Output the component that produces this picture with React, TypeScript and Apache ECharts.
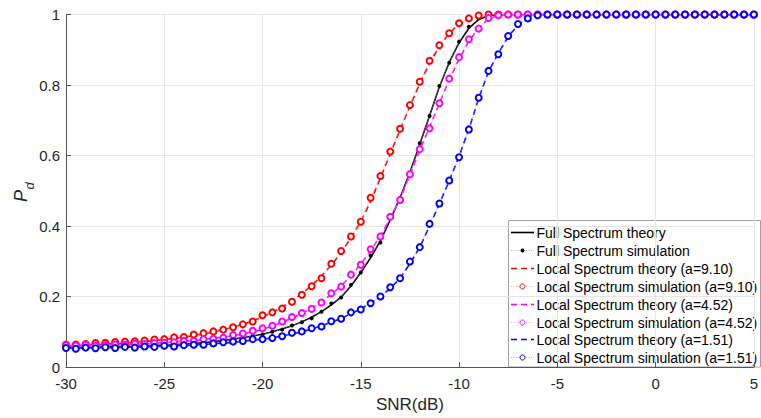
import React, { useEffect, useRef } from "react";
import * as echarts from "echarts";

const SNR = [
  -30, -29.5, -29, -28.5, -28, -27.5, -27, -26.5, -26, -25.5,
  -25, -24.5, -24, -23.5, -23, -22.5, -22, -21.5, -21, -20.5,
  -20, -19.5, -19, -18.5, -18, -17.5, -17, -16.5, -16, -15.5,
  -15, -14.5, -14, -13.5, -13, -12.5, -12, -11.5, -11, -10.5,
  -10, -9.5, -9, -8.5, -8, -7.5, -7, -6.5, -6, -5.5,
  -5, -4.5, -4, -3.5, -3, -2.5, -2, -1.5, -1, -0.5,
  0, 0.5, 1, 1.5, 2, 2.5, 3, 3.5, 4, 4.5,
  5,
];

const FULL_THEORY = [
  0.055, 0.055, 0.056, 0.056, 0.057, 0.057, 0.058, 0.059, 0.060, 0.061,
  0.062, 0.063, 0.065, 0.067, 0.069, 0.072, 0.075, 0.079, 0.083, 0.088,
  0.093, 0.100, 0.108, 0.117, 0.128, 0.141, 0.157, 0.176, 0.198, 0.230,
  0.268, 0.310, 0.358, 0.418, 0.480, 0.552, 0.632, 0.713, 0.795, 0.864,
  0.920, 0.961, 0.986, 0.997, 1, 1, 1, 1, 1, 1,
  1, 1, 1, 1, 1, 1, 1, 1, 1, 1,
  1, 1, 1, 1, 1, 1, 1, 1, 1, 1,
  1,
];

const FULL_SIM = [
  0.054, 0.056, 0.055, 0.057, 0.056, 0.058, 0.057, 0.060, 0.059, 0.061,
  0.063, 0.062, 0.066, 0.068, 0.068, 0.073, 0.074, 0.080, 0.082, 0.089,
  0.092, 0.100, 0.106, 0.118, 0.127, 0.138, 0.157, 0.180, 0.197, 0.233,
  0.268, 0.316, 0.353, 0.425, 0.479, 0.549, 0.635, 0.712, 0.797, 0.863,
  0.923, 0.965, 0.989, 0.998, 1, 1, 1, 1, 1, 1,
  1, 1, 1, 1, 1, 1, 1, 1, 1, 1,
  1, 1, 1, 1, 1, 1, 1, 1, 1, 1,
  1,
];

const RED_THEORY = [
  0.060, 0.061, 0.062, 0.063, 0.065, 0.066, 0.068, 0.070, 0.072, 0.075,
  0.078, 0.081, 0.085, 0.089, 0.094, 0.100, 0.106, 0.113, 0.121, 0.131,
  0.142, 0.155, 0.170, 0.188, 0.208, 0.231, 0.258, 0.289, 0.325, 0.366,
  0.413, 0.469, 0.536, 0.605, 0.673, 0.740, 0.804, 0.862, 0.910, 0.947,
  0.973, 0.988, 0.996, 0.999, 1, 1, 1, 1, 1, 1,
  1, 1, 1, 1, 1, 1, 1, 1, 1, 1,
  1, 1, 1, 1, 1, 1, 1, 1, 1, 1,
  1,
];

const RED_SIM = [
  0.064, 0.064, 0.065, 0.068, 0.069, 0.071, 0.072, 0.073, 0.075, 0.078,
  0.079, 0.084, 0.085, 0.092, 0.096, 0.101, 0.106, 0.113, 0.121, 0.129,
  0.147, 0.155, 0.166, 0.185, 0.205, 0.229, 0.252, 0.293, 0.329, 0.370,
  0.412, 0.480, 0.542, 0.611, 0.676, 0.743, 0.809, 0.869, 0.913, 0.947,
  0.975, 0.989, 0.997, 1, 1, 1, 1, 1, 1, 1,
  1, 1, 1, 1, 1, 1, 1, 1, 1, 1,
  1, 1, 1, 1, 1, 1, 1, 1, 1, 1,
  1,
];

const MAG_THEORY = [
  0.060, 0.060, 0.061, 0.061, 0.062, 0.063, 0.064, 0.065, 0.066, 0.067,
  0.069, 0.071, 0.073, 0.075, 0.078, 0.081, 0.085, 0.089, 0.094, 0.100,
  0.107, 0.116, 0.127, 0.139, 0.152, 0.167, 0.185, 0.206, 0.230, 0.259,
  0.292, 0.330, 0.372, 0.422, 0.476, 0.545, 0.615, 0.680, 0.748, 0.815,
  0.873, 0.925, 0.962, 0.988, 0.997, 1, 1, 1, 1, 1,
  1, 1, 1, 1, 1, 1, 1, 1, 1, 1,
  1, 1, 1, 1, 1, 1, 1, 1, 1, 1,
  1,
];

const MAG_SIM = [
  0.062, 0.061, 0.063, 0.060, 0.062, 0.064, 0.063, 0.066, 0.065, 0.068,
  0.069, 0.070, 0.074, 0.074, 0.079, 0.080, 0.083, 0.091, 0.095, 0.103,
  0.110, 0.117, 0.129, 0.142, 0.153, 0.165, 0.183, 0.209, 0.228, 0.262,
  0.290, 0.334, 0.370, 0.426, 0.474, 0.547, 0.618, 0.677, 0.748, 0.818,
  0.879, 0.930, 0.960, 0.990, 0.998, 1, 1, 1, 1, 1,
  1, 1, 1, 1, 1, 1, 1, 1, 1, 1,
  1, 1, 1, 1, 1, 1, 1, 1, 1, 1,
  1,
];

const BLUE_THEORY = [
  0.053, 0.053, 0.054, 0.054, 0.055, 0.055, 0.056, 0.056, 0.057, 0.058,
  0.059, 0.060, 0.061, 0.062, 0.064, 0.066, 0.068, 0.070, 0.073, 0.076,
  0.079, 0.083, 0.088, 0.094, 0.100, 0.108, 0.117, 0.127, 0.138, 0.151,
  0.165, 0.181, 0.200, 0.223, 0.252, 0.293, 0.340, 0.400, 0.463, 0.528,
  0.597, 0.675, 0.762, 0.838, 0.890, 0.937, 0.971, 0.989, 0.997, 1,
  1, 1, 1, 1, 1, 1, 1, 1, 1, 1,
  1, 1, 1, 1, 1, 1, 1, 1, 1, 1,
  1,
];

const BLUE_SIM = [
  0.054, 0.052, 0.055, 0.053, 0.056, 0.054, 0.057, 0.055, 0.058, 0.057,
  0.060, 0.058, 0.062, 0.063, 0.063, 0.067, 0.070, 0.072, 0.074, 0.079,
  0.079, 0.082, 0.087, 0.097, 0.101, 0.110, 0.115, 0.130, 0.137, 0.155,
  0.163, 0.181, 0.200, 0.226, 0.252, 0.299, 0.340, 0.406, 0.464, 0.529,
  0.595, 0.674, 0.764, 0.840, 0.887, 0.939, 0.973, 0.989, 0.998, 1,
  1, 1, 1, 1, 1, 1, 1, 1, 1, 1,
  1, 1, 1, 1, 1, 1, 1, 1, 1, 1,
  1,
];

const X_TICKS = [-30, -25, -20, -15, -10, -5, 0, 5];
const Y_TICKS = [0, 0.2, 0.4, 0.6, 0.8, 1];

const FONT = "'Liberation Sans', Arial, Helvetica, sans-serif";
const TEXT_COLOR = "#262626";

type Entry = {
  name: string;
  ys: number[];
  color: string;
  kind: "solid" | "dashed" | "sim" | "simFilled";
  lineColor?: string;
};

const ENTRIES: Entry[] = [
  { name: "Full Spectrum theory", ys: FULL_THEORY, color: "#000000", kind: "solid" },
  { name: "Full Spectrum simulation", ys: FULL_SIM, color: "#000000", kind: "simFilled", lineColor: "#9a9a9a" },
  { name: "Local Spectrum theory (a=9.10)", ys: RED_THEORY, color: "#ff0000", kind: "dashed" },
  { name: "Local Spectrum simulation (a=9.10)", ys: RED_SIM, color: "#ff0000", kind: "sim", lineColor: "#ff9090" },
  { name: "Local Spectrum theory (a=4.52)", ys: MAG_THEORY, color: "#ff00ff", kind: "dashed" },
  { name: "Local Spectrum simulation (a=4.52)", ys: MAG_SIM, color: "#ff00ff", kind: "sim", lineColor: "#ff90ff" },
  { name: "Local Spectrum theory (a=1.51)", ys: BLUE_THEORY, color: "#0000ff", kind: "dashed" },
  { name: "Local Spectrum simulation (a=1.51)", ys: BLUE_SIM, color: "#0000ff", kind: "sim", lineColor: "#9090ff" },
];

function pairs(ys: number[]) {
  return SNR.map((x, i) => [x, ys[i]]);
}

function makeSeries(e: Entry) {
  if (e.kind === "solid" || e.kind === "dashed") {
    return {
      type: "line",
      name: e.name,
      data: pairs(e.ys),
      symbol: "none",
      showSymbol: false,
      silent: true,
      lineStyle: { color: e.color, width: 1.6, type: e.kind === "dashed" ? [6, 4] : "solid" },
      itemStyle: { color: e.color },
    };
  }
  const filled = e.kind === "simFilled";
  return {
    type: "line",
    name: e.name,
    data: pairs(e.ys),
    symbol: filled ? "circle" : "emptyCircle",
    symbolSize: filled ? 4 : 6,
    showSymbol: true,
    silent: true,
    lineStyle: { color: e.lineColor, width: 0.8, type: "dotted" },
    itemStyle: filled ? { color: e.color } : { color: e.color, borderColor: e.color, borderWidth: 1 },
  };
}

function legendGraphics() {
  const boxX = 508.5;
  const boxY = 220.5;
  const boxW = 252;
  const boxH = 146.5;
  const rowTop = 232.3;
  const rowStep = 17.86;
  const lx1 = 511;
  const lx2 = 534;
  const children: any[] = [
    {
      type: "rect",
      shape: { x: boxX, y: boxY, width: boxW, height: boxH },
      style: { fill: "#ffffff", stroke: "#a0a0a0", lineWidth: 1 },
    },
  ];
  ENTRIES.forEach((e, i) => {
    const y = Math.round(rowTop + i * rowStep) + 0.5;
    if (e.kind === "solid") {
      children.push({
        type: "line",
        shape: { x1: lx1, y1: y, x2: lx2, y2: y },
        style: { stroke: e.color, lineWidth: 1.6 },
      });
    } else if (e.kind === "dashed") {
      children.push({
        type: "line",
        shape: { x1: lx1, y1: y, x2: lx2, y2: y },
        style: { stroke: e.color, lineWidth: 1.6, lineDash: [6, 4] },
      });
    } else {
      children.push({
        type: "line",
        shape: { x1: lx1, y1: y, x2: lx2, y2: y },
        style: { stroke: e.lineColor, lineWidth: 0.8, lineDash: [1, 1.5] },
      });
      const cx = (lx1 + lx2) / 2;
      if (e.kind === "simFilled") {
        children.push({
          type: "circle",
          shape: { cx, cy: y, r: 2 },
          style: { fill: e.color },
        });
      } else {
        children.push({
          type: "circle",
          shape: { cx, cy: y, r: 2.5 },
          style: { fill: "#ffffff", stroke: e.color, lineWidth: 1 },
        });
      }
    }
    children.push({
      type: "text",
      x: 536.5,
      y: y + 0.5,
      style: {
        text: e.name,
        font: "14px " + FONT,
        fill: "#000000",
        textAlign: "left",
        textVerticalAlign: "middle",
      },
    });
  });
  return { type: "group", z: 100, children };
}

export default function App() {
  const ref = useRef<HTMLDivElement>(null);
  useEffect(() => {
    if (!ref.current) return;
    const chart = echarts.init(ref.current, undefined, { renderer: "svg" });
    chart.setOption({
      animation: false,
      backgroundColor: "#ffffff",
      grid: { left: 66, right: 0, top: 14.5, bottom: 51, containLabel: false },
      xAxis: {
        type: "value",
        min: X_TICKS[0],
        max: X_TICKS[X_TICKS.length - 1],
        interval: 5,
        name: "SNR(dB)",
        nameLocation: "middle",
        nameGap: 20,
        nameTextStyle: { fontFamily: FONT, fontSize: 17, color: TEXT_COLOR },
        axisLine: { show: true, onZero: false, lineStyle: { color: "#555", width: 1 } },
        axisTick: { show: true, inside: true, length: 5, lineStyle: { color: "#555" } },
        axisLabel: { fontFamily: FONT, fontSize: 15, color: TEXT_COLOR, margin: 9 },
        splitLine: { show: true, lineStyle: { color: "#e6e6e6", width: 1 } },
      },
      yAxis: {
        type: "value",
        min: Y_TICKS[0],
        max: Y_TICKS[Y_TICKS.length - 1],
        interval: 0.2,
        axisLine: { show: true, onZero: false, lineStyle: { color: "#555", width: 1 } },
        axisTick: { show: true, inside: true, length: 5, lineStyle: { color: "#555" } },
        axisLabel: { fontFamily: FONT, fontSize: 15, color: TEXT_COLOR, margin: 6 },
        splitLine: { show: true, lineStyle: { color: "#e6e6e6", width: 1 } },
      },
      graphic: [
        {
          type: "group",
          x: 21,
          y: 202,
          rotation: Math.PI / 2,
          children: [
            {
              type: "text",
              x: 0,
              y: 0,
              style: {
                text: "P",
                font: "italic 18px " + FONT,
                fill: TEXT_COLOR,
                textAlign: "left",
                textVerticalAlign: "middle",
              },
            },
            {
              type: "text",
              x: 12.5,
              y: 8,
              style: {
                text: "d",
                font: "italic 13px " + FONT,
                fill: TEXT_COLOR,
                textAlign: "left",
                textVerticalAlign: "middle",
              },
            },
          ],
        },
        legendGraphics(),
      ],
      series: ENTRIES.map(makeSeries),
    });
    return () => chart.dispose();
  }, []);
  return (
    <div
      ref={ref}
      style={{ position: "fixed", left: 0, top: 0, width: 761, height: 418 }}
    />
  );
}
